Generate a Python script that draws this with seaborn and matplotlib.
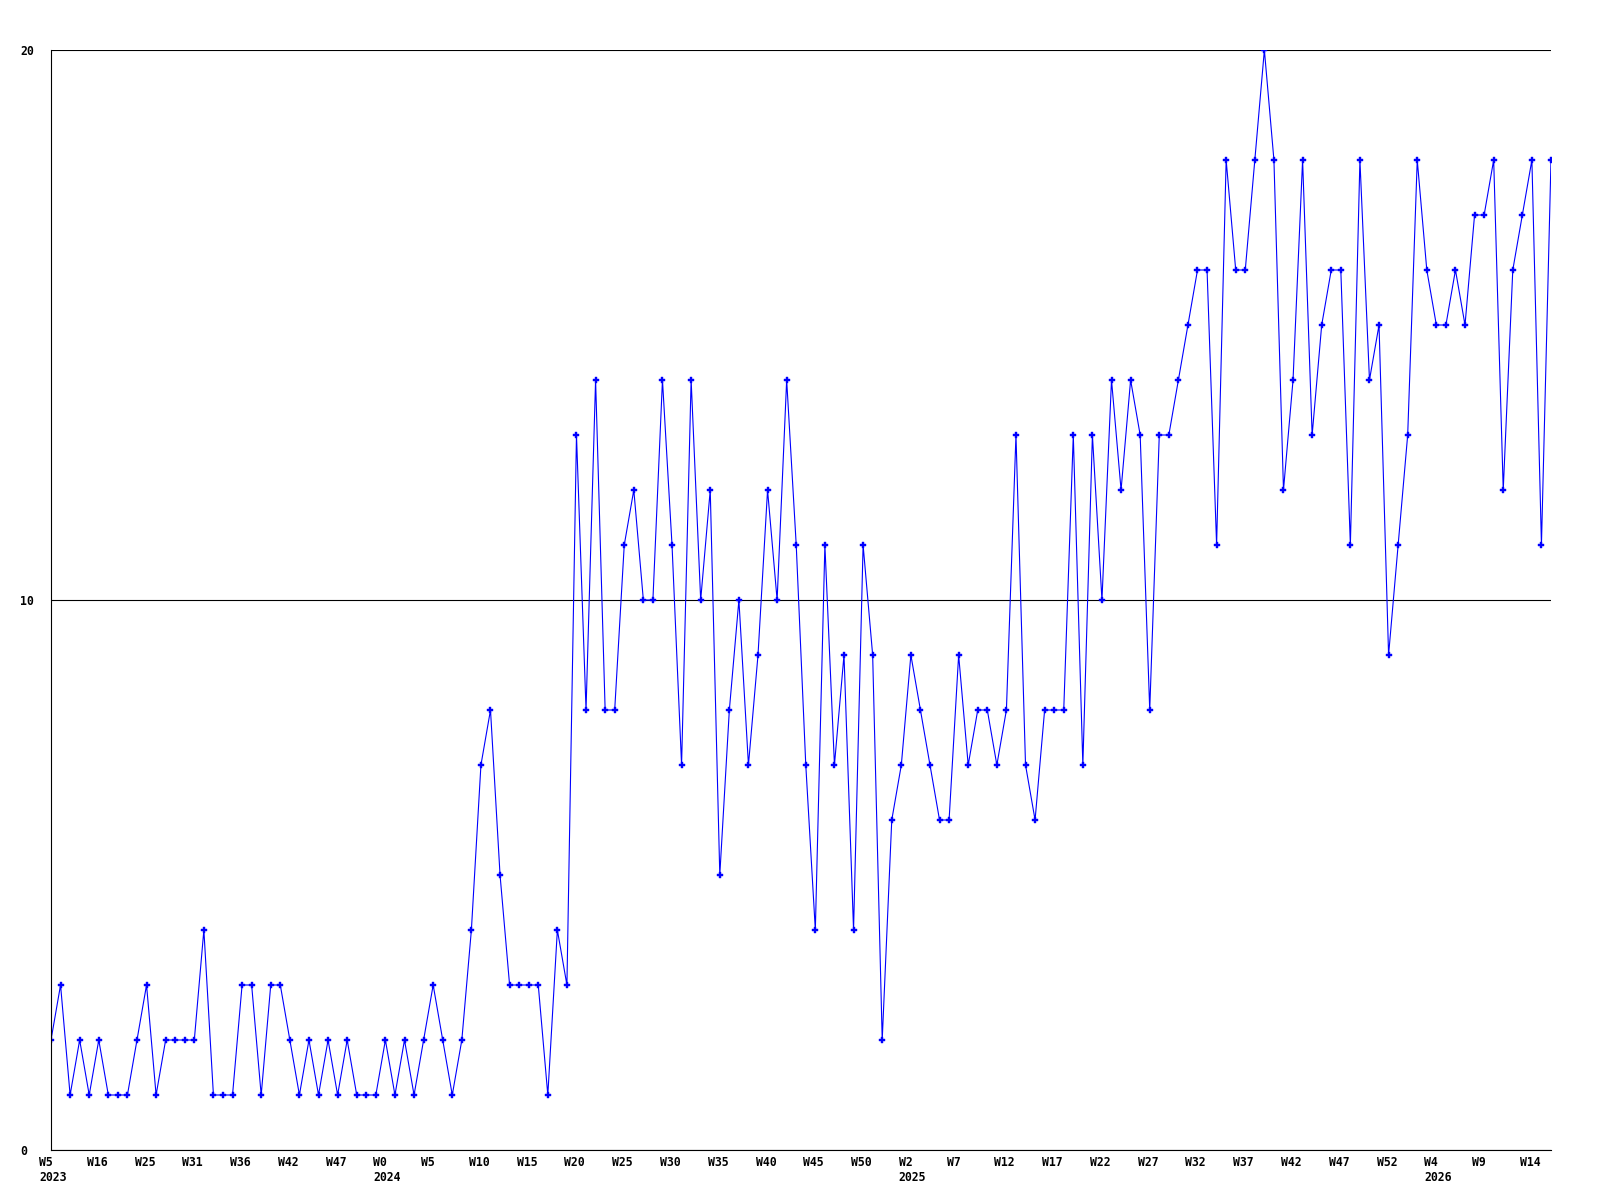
import numpy as np
import pandas as pd
import seaborn as sns
import matplotlib.pyplot as plt
from matplotlib.transforms import ScaledTranslation

# Weekly counts (one value per week, W5 2023 .. W16 2026)
counts = [
    2, 3, 1, 2, 1, 2, 1, 1, 1, 2,
    3, 1, 2, 2, 2, 2, 4, 1, 1, 1,
    3, 3, 1, 3, 3, 2, 1, 2, 1, 2,
    1, 2, 1, 1, 1, 2, 1, 2, 1, 2,
    3, 2, 1, 2, 4, 7, 8, 5, 3, 3,
    3, 3, 1, 4, 3, 13, 8, 14, 8, 8,
    11, 12, 10, 10, 14, 11, 7, 14, 10, 12,
    5, 8, 10, 7, 9, 12, 10, 14, 11, 7,
    4, 11, 7, 9, 4, 11, 9, 2, 6, 7,
    9, 8, 7, 6, 6, 9, 7, 8, 8, 7,
    8, 13, 7, 6, 8, 8, 8, 13, 7, 13,
    10, 14, 12, 14, 13, 8, 13, 13, 14, 15,
    16, 16, 11, 18, 16, 16, 18, 20, 18, 12,
    14, 18, 13, 15, 16, 16, 11, 18, 14, 15,
    9, 11, 13, 18, 16, 15, 15, 16, 15, 17,
    17, 18, 12, 16, 17, 18, 11, 18,
]

# Tick labels, one every 5 weeks
week_labels = ["W5", "W16", "W25", "W31", "W36", "W42", "W47", "W0", "W5", "W10",
               "W15", "W20", "W25", "W30", "W35", "W40", "W45", "W50", "W2", "W7",
               "W12", "W17", "W22", "W27", "W32", "W37", "W42", "W47", "W52", "W4",
               "W9", "W14"]
year_tick_index = [0, 7, 18, 29]
year_labels = ["2023", "2024", "2025", "2026"]
y_ticks = [0, 10, 20]

sns.set_style("white")
plt.rcParams["font.family"] = ["DejaVu Sans Mono", "DejaVu Sans"]

fig = plt.figure(figsize=(16, 12), dpi=100)
ax = fig.add_axes([51 / 1600, 50 / 1200, 1500 / 1600, 1100 / 1200])

df = pd.DataFrame({"week": np.arange(len(counts)), "count": counts})
sns.lineplot(data=df, x="week", y="count", ax=ax, color="#0000ff",
             linewidth=0.8, marker="P", markersize=4.5,
             markeredgecolor="#0000ff", markeredgewidth=0.3)

ax.set_xlim(0, len(counts) - 1)
ax.set_ylim(0, 20)

ax.tick_params(axis="x", length=0, pad=4.5, colors="black")
ax.tick_params(axis="y", length=0, pad=22.3, colors="black")

tick_pos = np.arange(0, len(counts), 5)
labels = list(week_labels)
for i, yr in zip(year_tick_index, year_labels):
    labels[i] = labels[i] + "\n" + yr
ax.set_xticks(tick_pos)
ax.set_xticklabels(labels, ha="left", fontsize=8.3, fontweight="bold",
                   linespacing=1.2)

ax.set_yticks(y_ticks)
ax.set_yticklabels([str(v) for v in y_ticks], ha="left", fontsize=8.3,
                   fontweight="bold")

ax.grid(axis="y", color="black", linewidth=0.8)
ax.grid(axis="x", visible=False)
ax.set_axisbelow(True)
for side in ["top", "right"]:
    ax.spines[side].set_visible(False)
for side in ["left", "bottom"]:
    ax.spines[side].set_color("black")
    ax.spines[side].set_linewidth(0.8)

ax.set_xlabel("")
ax.set_ylabel("")

offset = ScaledTranslation(-12 / 100, 0, fig.dpi_scale_trans)
for lab in ax.get_xticklabels():
    lab.set_transform(lab.get_transform() + offset)

fig.savefig("out.png", dpi=100)
